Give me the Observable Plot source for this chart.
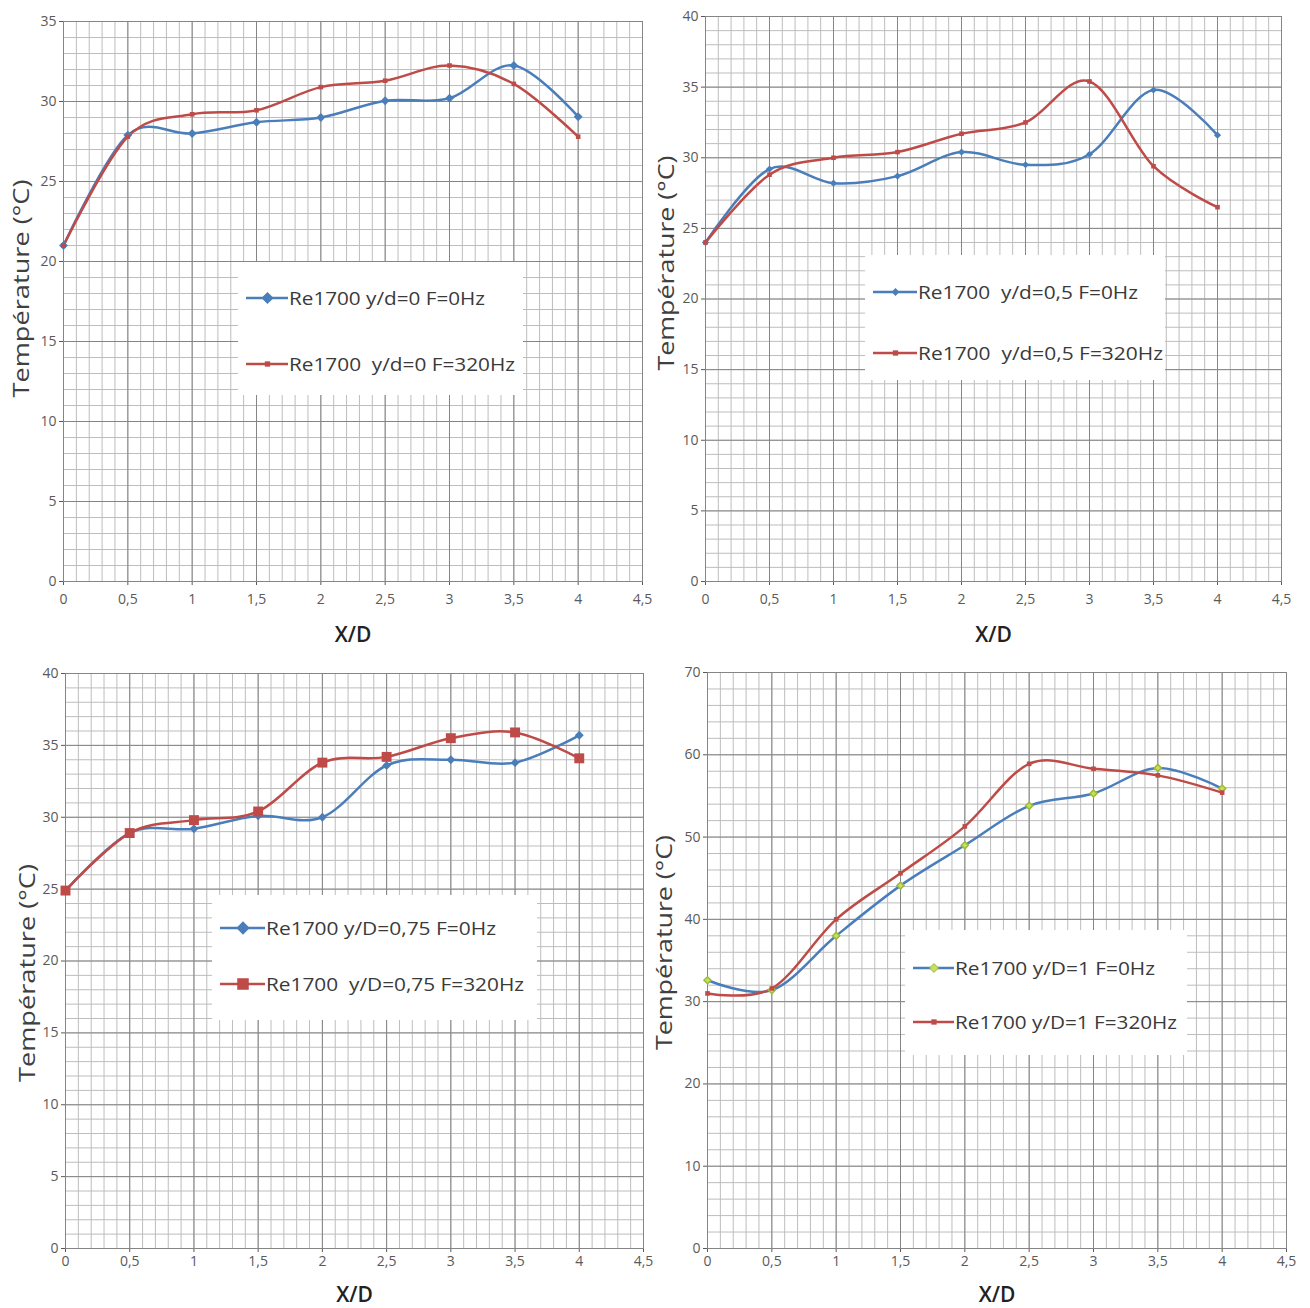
<!DOCTYPE html>
<html><head><meta charset="utf-8">
<script src="https://cdn.jsdelivr.net/npm/d3@7"></script>
<script src="https://cdn.jsdelivr.net/npm/@observablehq/plot@0.6"></script>
<style>
body{margin:0;background:#fff;}
#root{position:relative;width:1310px;height:1308px;overflow:hidden;background:#fff;font-family:"Open Sans",sans-serif;}
.panel{position:absolute;}
.legend{position:absolute;background:#fff;}
.legend svg{display:block;}
</style></head><body>
<div id="root"></div>
<script>
// ---- data ----
const xPos = [0, 0.5, 1, 1.5, 2, 2.5, 3, 3.5, 4];
const xTicks = [0, 0.5, 1, 1.5, 2, 2.5, 3, 3.5, 4, 4.5];
const yTitle = "Température (°C)";
const xTitle = "X/D";

const p1Labels = ["Re1700 y/d=0 F=0Hz", "Re1700  y/d=0 F=320Hz"];
const p1Blue = [21.0, 27.9, 28.0, 28.7, 29.0, 30.05, 30.2, 32.25, 29.05];
const p1Red  = [21.0, 27.8, 29.2, 29.45, 30.9, 31.3, 32.25, 31.1, 27.8];
const p1YTicks = [0, 5, 10, 15, 20, 25, 30, 35];

const p2Labels = ["Re1700  y/d=0,5 F=0Hz", "Re1700  y/d=0,5 F=320Hz"];
const p2Blue = [24.0, 29.2, 28.2, 28.7, 30.4, 29.5, 30.25, 34.8, 31.6];
const p2Red  = [24.0, 28.8, 30.0, 30.4, 31.7, 32.5, 35.4, 29.4, 26.5];
const p2YTicks = [0, 5, 10, 15, 20, 25, 30, 35, 40];

const p3Labels = ["Re1700 y/D=0,75 F=0Hz", "Re1700  y/D=0,75 F=320Hz"];
const p3Blue = [24.9, 28.9, 29.2, 30.1, 30.0, 33.6, 34.0, 33.8, 35.7];
const p3Red  = [24.9, 28.9, 29.8, 30.4, 33.8, 34.2, 35.5, 35.9, 34.1];
const p3YTicks = [0, 5, 10, 15, 20, 25, 30, 35, 40];

const p4Labels = ["Re1700 y/D=1 F=0Hz", "Re1700 y/D=1 F=320Hz"];
const p4Blue = [32.6, 31.4, 38.0, 44.1, 49.0, 53.8, 55.3, 58.4, 55.9];
const p4Red  = [31.0, 31.6, 40.0, 45.6, 51.3, 58.9, 58.3, 57.5, 55.4];
const p4YTicks = [0, 10, 20, 30, 40, 50, 60, 70];

// ---- styles ----
const BLUE = "#4a7ebb", RED = "#be4b48";
const fmt = d => String(d).replace(".", ",");

const panels = [
  {left:0, top:0, width:655, height:650, mt:21, mb:69, ml:63, mr:13, ticks:p1YTicks, blue:p1Blue, red:p1Red, labels:p1Labels,
   tickPad:9, yTitleDx:-41, yTitleDy:-13, yTitleLen:218, xTitleDy:54, bm:{sym:"diamond2", r:4, fill:BLUE}, rm:{sym:"square", r:2.6, fill:RED},
   leg:{left:238, top:262, w:285, h:133, y1:36, y2:102, tx:51, tw:[196, 226], bmL:{r:5.5}, rmL:{r:3}}},
  {left:650, top:0, width:650, height:650, mt:16, mb:69, ml:55, mr:19, ticks:p2YTicks, blue:p2Blue, red:p2Red, labels:p2Labels,
   tickPad:9, yTitleDx:-38, yTitleDy:-36, yTitleLen:215, xTitleDy:54, bm:{sym:"diamond2", r:3.2, fill:BLUE}, rm:{sym:"square", r:2.6, fill:RED},
   leg:{left:865, top:255, w:300, h:125, y1:37, y2:98, tx:53, tw:[220, 245], bmL:{r:3.5}, rmL:{r:3}}},
  {left:0, top:655, width:655, height:653, mt:18, mb:60, ml:65, mr:12, ticks:p3YTicks, blue:p3Blue, red:p3Red, labels:p3Labels,
   tickPad:4, yTitleDx:-37, yTitleDy:12, yTitleLen:218, xTitleDy:47, bm:{sym:"diamond2", r:4, fill:BLUE}, rm:{sym:"square", r:5.6, fill:RED},
   leg:{left:212, top:895, w:325, h:125, y1:33, y2:89, tx:54, tw:[230, 258], bmL:{r:6}, rmL:{r:6.5}}},
  {left:650, top:655, width:655, height:653, mt:17, mb:60, ml:57, mr:19, ticks:p4YTicks, blue:p4Blue, red:p4Red, labels:p4Labels,
   tickPad:4, yTitleDx:-42, yTitleDy:-18, yTitleLen:215, xTitleDy:47, bm:{sym:"diamond2", r:3.2, fill:"#c9de5a", stroke:"#9bbb3b"}, rm:{sym:"square", r:2.6, fill:RED},
   leg:{left:905, top:930, w:282, h:125, y1:38, y2:92, tx:50, tw:[200, 222], bmL:{r:4}, rmL:{r:3}}}
];

const root = document.getElementById("root");

panels.forEach(p => {
  const yMax = p.ticks[p.ticks.length - 1];
  const yStep = p.ticks[1] - p.ticks[0];
  const minorX = d3.range(0, 45.5, 1).map(v => v / 10);
  const minorY = d3.range(0, yMax + 1e-9, yStep / 5);
  const rows = [
    ...p.blue.map((v, i) => ({x: xPos[i], y: v, s: "b"})),
    ...p.red.map((v, i) => ({x: xPos[i], y: v, s: "r"}))
  ];
  const blueRows = rows.filter(d => d.s === "b");
  const redRows = rows.filter(d => d.s === "r");
  const chart = Plot.plot({
    width: p.width, height: p.height,
    marginTop: p.mt, marginBottom: p.mb, marginLeft: p.ml, marginRight: p.mr,
    style: {fontFamily: "'Open Sans', sans-serif", fontSize: "14px", color: "#5a5a5a", background: "transparent"},
    x: {domain: [0, 4.5], ticks: xTicks, tickFormat: fmt, tickSize: 4, tickPadding: p.tickPad, label: null},
    y: {domain: [0, yMax], ticks: p.ticks, tickFormat: fmt, tickSize: 4, tickPadding: 3, label: null},
    marks: [
      Plot.ruleX(minorX, {stroke: "#bdbdbd", strokeWidth: 1}),
      Plot.ruleY(minorY, {stroke: "#bdbdbd", strokeWidth: 1}),
      Plot.ruleX(xTicks, {stroke: "#858585", strokeWidth: 1}),
      Plot.ruleY(p.ticks, {stroke: "#858585", strokeWidth: 1}),
      Plot.frame({stroke: "#858585"}),
      Plot.line(blueRows, {x: "x", y: "y", stroke: BLUE, strokeWidth: 2.5, curve: "cardinal", tension: 0}),
      Plot.line(redRows, {x: "x", y: "y", stroke: RED, strokeWidth: 2.5, curve: "cardinal", tension: 0}),
      Plot.dot(blueRows, {x: "x", y: "y", symbol: p.bm.sym, r: p.bm.r, fill: p.bm.fill, stroke: p.bm.stroke || "none"}),
      Plot.dot(redRows, {x: "x", y: "y", symbol: p.rm.sym, r: p.rm.r, fill: p.rm.fill, stroke: "none"}),
      Plot.text([yTitle], {frameAnchor: "left", dx: p.yTitleDx, dy: p.yTitleDy, rotate: -90, fontSize: 21, fill: "#404040", lineAnchor: "middle", textAnchor: "middle", className: "ytitle"}),
      Plot.text([xTitle], {frameAnchor: "bottom", dy: p.xTitleDy, fontSize: 21, fontWeight: 600, fill: "#222", lineAnchor: "middle", textAnchor: "middle"})
    ]
  });
  d3.select(chart).selectAll(".ytitle text")
    .attr("textLength", p.yTitleLen).attr("lengthAdjust", "spacingAndGlyphs");
  const wrap = document.createElement("div");
  wrap.className = "panel";
  wrap.style.left = p.left + "px";
  wrap.style.top = p.top + "px";
  wrap.appendChild(chart);
  root.appendChild(wrap);

  // legend
  const L = p.leg;
  const lg = document.createElement("div");
  lg.className = "legend";
  lg.style.left = L.left + "px"; lg.style.top = L.top + "px";
  lg.style.width = L.w + "px"; lg.style.height = L.h + "px";
  root.appendChild(lg);
  const svg = d3.select(lg).append("svg").attr("width", L.w).attr("height", L.h);
  const entries = [
    {y: L.y1, color: BLUE, sym: d3.symbolDiamond2, r: L.bmL.r, fill: p.bm.fill, stroke: p.bm.stroke, label: p.labels[0], tw: L.tw[0]},
    {y: L.y2, color: RED, sym: d3.symbolSquare, r: L.rmL.r, fill: p.rm.fill, stroke: null, label: p.labels[1], tw: L.tw[1]}
  ];
  entries.forEach(e => {
    const g = svg.append("g");
    g.append("line").attr("x1", 8).attr("x2", L.tx - 1).attr("y1", e.y).attr("y2", e.y)
      .attr("stroke", e.color).attr("stroke-width", 2.5);
    g.append("path").attr("d", d3.symbol(e.sym, Math.PI * e.r * e.r)())
      .attr("transform", `translate(${(8 + L.tx) / 2},${e.y})`)
      .attr("fill", e.fill).attr("stroke", e.stroke || "none");
    g.append("text").attr("x", L.tx).attr("y", e.y).attr("dy", "0.35em")
      .attr("font-size", 19).attr("fill", "#3a3a3a")
      .attr("font-family", "'Open Sans', sans-serif")
      .attr("textLength", e.tw).attr("lengthAdjust", "spacingAndGlyphs")
      .attr("xml:space", "preserve")
      .style("white-space", "pre")
      .text(e.label);
  });
});
</script>
</body></html>
